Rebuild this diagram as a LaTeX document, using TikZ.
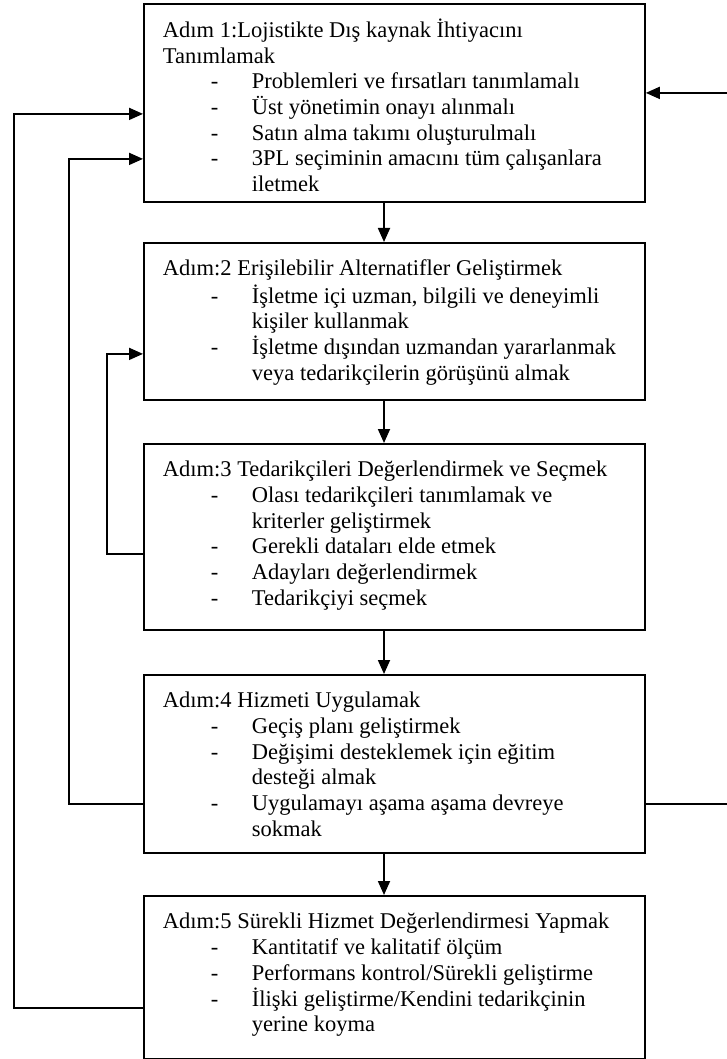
\documentclass[tikz,border=0pt]{standalone}
\usepackage{fontspec}
\setmainfont{Liberation Serif}
\usetikzlibrary{arrows.meta}

\newcommand{\adimitem}[1]{\par\hspace*{48pt}\makebox[41pt][l]{-}#1}
\newcommand{\adimcont}[1]{\par\hspace*{89pt}#1}
\newcommand{\adimtext}[2]{\parbox[c][#1][t]{463pt}{\raggedright\fontsize{22.5}{25.7}\selectfont
    \vspace*{15pt}\strut#2}}

\tikzset{
    stepbox/.style={draw, line width=1.8pt, anchor=north west,
        inner xsep=19pt, inner ysep=0pt},
}

\begin{document}
\begin{tikzpicture}[x=1pt, y=-1pt, >={Triangle[length=14pt,width=12pt]}, line width=1.8pt]
    \useasboundingbox (0,0) rectangle (727,1059);

    \node[stepbox] (s1) at (143,3) {\adimtext{198pt}{%
        Adım 1:Lojistikte Dış kaynak İhtiyacını\par Tanımlamak
        \adimitem{Problemleri ve fırsatları tanımlamalı}
        \adimitem{Üst yönetimin onayı alınmalı}
        \adimitem{Satın alma takımı oluşturulmalı}
        \adimitem{3PL seçiminin amacını tüm çalışanlara}
        \adimcont{iletmek}}};
    \node[stepbox] (s2) at (143,242) {\adimtext{157pt}{%
        Adım:2 Erişilebilir Alternatifler Geliştirmek
        \adimitem{İşletme içi uzman, bilgili ve deneyimli}
        \adimcont{kişiler kullanmak}
        \adimitem{İşletme dışından uzmandan yararlanmak}
        \adimcont{veya tedarikçilerin görüşünü almak}}};
    \node[stepbox] (s3) at (143,443) {\adimtext{186pt}{%
        Adım:3 Tedarikçileri Değerlendirmek ve Seçmek
        \adimitem{Olası tedarikçileri tanımlamak ve}
        \adimcont{kriterler geliştirmek}
        \adimitem{Gerekli dataları elde etmek}
        \adimitem{Adayları değerlendirmek}
        \adimitem{Tedarikçiyi seçmek}}};
    \node[stepbox] (s4) at (143,674) {\adimtext{178pt}{%
        Adım:4 Hizmeti Uygulamak
        \adimitem{Geçiş planı geliştirmek}
        \adimitem{Değişimi desteklemek için eğitim}
        \adimcont{desteği almak}
        \adimitem{Uygulamayı aşama aşama devreye}
        \adimcont{sokmak}}};
    \node[stepbox] (s5) at (143,895) {\adimtext{163pt}{%
        Adım:5 Sürekli Hizmet Değerlendirmesi Yapmak
        \adimitem{Kantitatif ve kalitatif ölçüm}
        \adimitem{Performans kontrol/Sürekli geliştirme}
        \adimitem{İlişki geliştirme/Kendini tedarikçinin}
        \adimcont{yerine koyma}}};

    % main flow
    \coordinate (mid) at (384,0);
    \foreach \a/\b in {s1/s2, s2/s3, s3/s4, s4/s5} {
        \draw[->] (\a.south -| mid) -- (\b.north -| mid);
    }

    % feedback loops
    \draw[->] ([yshift=-17pt]s3.west) -- ++(-36,0) |- ([yshift=-32.5pt]s2.west);
    \draw[->] ([yshift=-40pt]s4.west) -- ++(-74,0) |- ([yshift=-56pt]s1.west);
    \draw[->] ([yshift=-30.5pt]s5.west) -- ++(-129,0) |- ([yshift=-11pt]s1.west);
    \draw[->] ([yshift=-40pt]s4.east) -- ++(86,0) |- ([yshift=10pt]s1.east);
\end{tikzpicture}
\end{document}
